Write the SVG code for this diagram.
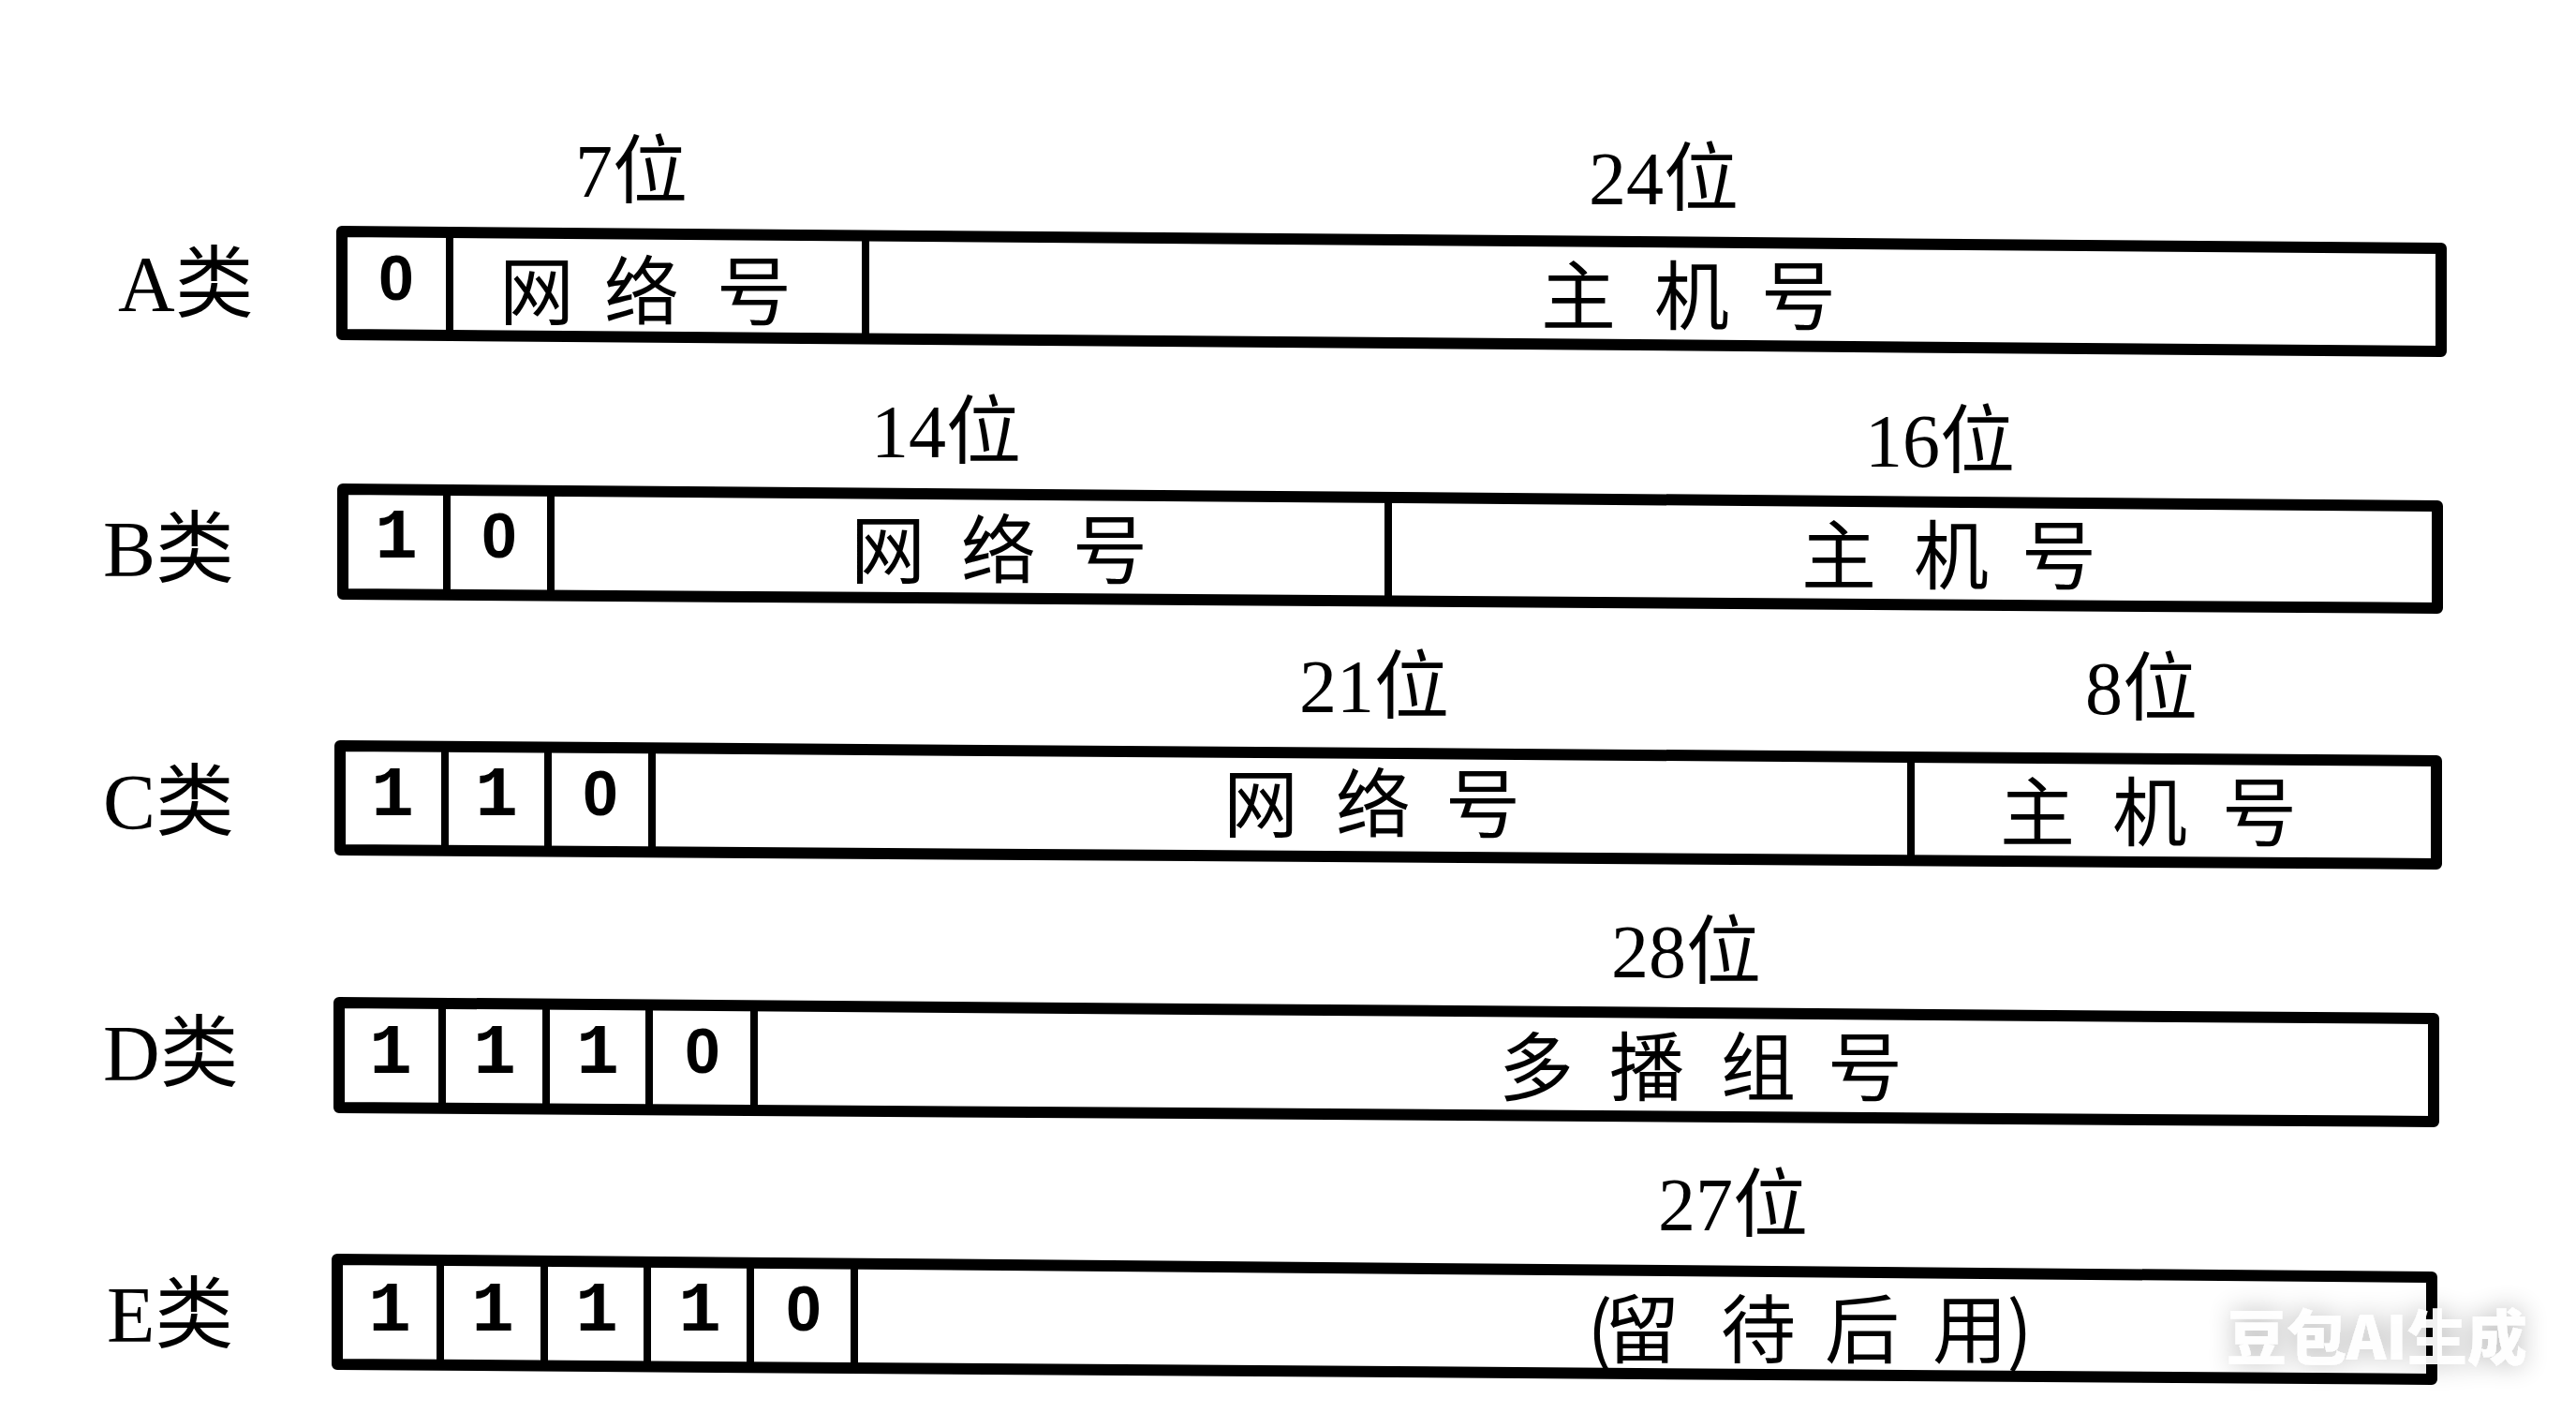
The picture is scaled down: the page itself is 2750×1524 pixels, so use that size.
<svg xmlns="http://www.w3.org/2000/svg" width="2750" height="1524" viewBox="0 0 2750 1524">
<defs>
<style>
.frame{fill:#fff;stroke:#000;stroke-width:12;stroke-linejoin:round}
.dv{stroke:#000;stroke-width:8;fill:none}
.lbl{font-family:"Liberation Serif","Noto Sans CJK SC",serif;font-size:84px;fill:#000}
.bits{font-family:"Liberation Serif","Noto Sans CJK SC",serif;font-size:80px;text-anchor:middle;fill:#000}
.cell{font-family:"Liberation Mono",monospace;font-weight:bold;font-size:76px;text-anchor:middle;fill:#000}
.zero{font-family:"Liberation Sans",sans-serif;font-weight:bold;font-size:68px;text-anchor:middle;fill:#000}
.cjk{font-family:"Noto Sans CJK SC",sans-serif;font-size:80px;text-anchor:middle;fill:#000}
.wm{font-family:"Noto Sans CJK SC",sans-serif;font-weight:900;font-size:64px;fill:#fff;fill-opacity:0.94}
</style>
<filter id="shadow" x="-20%" y="-60%" width="140%" height="220%">
<feGaussianBlur in="SourceAlpha" stdDeviation="14"/>
<feComponentTransfer><feFuncA type="linear" slope="0.3"/></feComponentTransfer>
<feMerge><feMergeNode/><feMergeNode in="SourceGraphic"/></feMerge>
</filter>
</defs>
<rect width="2750" height="1524" fill="#fff"/>

<g id="classA">
<text class="lbl" x="126" y="332">A类</text>
<text class="bits" x="674" y="210">7位</text>
<text class="bits" x="1776" y="218">24位</text>
<path class="frame" d="M365,247 L2606,265 L2606,375 L365,357 Z"/>
<line class="dv" x1="480" y1="248" x2="480" y2="358"/>
<line class="dv" x1="924" y1="251.5" x2="924" y2="361.5"/>
<text class="zero" x="423" y="320">0</text>
<text class="cjk" x="573 629 685 745 805" y="340">网 络 号</text>
<text class="cjk" x="1685 1745 1806 1863 1920" y="345">主 机 号</text>
</g>

<g id="classB">
<text class="lbl" x="110" y="615">B类</text>
<text class="bits" x="1010" y="488">14位</text>
<text class="bits" x="2071" y="498">16位</text>
<path class="frame" d="M366,522 L2602,540 L2602,649 L366,634 Z"/>
<line class="dv" x1="477" y1="523" x2="477" y2="635"/>
<line class="dv" x1="588" y1="524" x2="588" y2="636"/>
<line class="dv" x1="1482" y1="531" x2="1482" y2="641.5"/>
<text class="cell" x="423" y="595">1</text>
<text class="zero" x="533" y="595">0</text>
<text class="cjk" x="948 1007 1066 1125 1185" y="616">网 络 号</text>
<text class="cjk" x="1963 2023 2083 2140 2198" y="622">主 机 号</text>
</g>

<g id="classC">
<text class="lbl" x="110" y="885">C类</text>
<text class="bits" x="1467" y="760">21位</text>
<text class="bits" x="2286" y="762">8位</text>
<path class="frame" d="M363,796 L2601,812 L2601,922 L363,907 Z"/>
<line class="dv" x1="475" y1="797" x2="475" y2="908"/>
<line class="dv" x1="585" y1="797.5" x2="585" y2="908.5"/>
<line class="dv" x1="696" y1="798.5" x2="696" y2="909"/>
<line class="dv" x1="2040" y1="808" x2="2040" y2="918"/>
<text class="cell" x="419" y="870">1</text>
<text class="cell" x="530" y="870">1</text>
<text class="zero" x="641" y="870">0</text>
<text class="cjk" x="1346 1406 1466 1525 1583" y="887">网 络 号</text>
<text class="cjk" x="2175 2235 2295 2353 2412" y="896">主 机 号</text>
</g>

<g id="classD">
<text class="lbl" x="110" y="1153">D类</text>
<text class="bits" x="1800" y="1043">28位</text>
<path class="frame" d="M362,1070 L2598,1087 L2598,1197 L362,1182 Z"/>
<line class="dv" x1="472" y1="1071" x2="472" y2="1182.5"/>
<line class="dv" x1="583" y1="1071.5" x2="583" y2="1183.5"/>
<line class="dv" x1="693" y1="1072.5" x2="693" y2="1184"/>
<line class="dv" x1="805" y1="1073.5" x2="805" y2="1185"/>
<text class="cell" x="417" y="1145">1</text>
<text class="cell" x="528" y="1145">1</text>
<text class="cell" x="638" y="1145">1</text>
<text class="zero" x="750" y="1145">0</text>
<text class="cjk" x="1640 1699 1758 1817 1877 1934 1991" y="1168">多 播 组 号</text>
</g>

<g id="classE">
<text class="lbl" x="114" y="1432">E类</text>
<text class="bits" x="1850" y="1313">27位</text>
<path class="frame" d="M360,1344 L2596,1363 L2596,1472 L360,1456 Z"/>
<line class="dv" x1="470" y1="1345" x2="470" y2="1457"/>
<line class="dv" x1="581" y1="1346" x2="581" y2="1457.5"/>
<line class="dv" x1="691" y1="1347" x2="691" y2="1458.5"/>
<line class="dv" x1="801" y1="1347.5" x2="801" y2="1459"/>
<line class="dv" x1="912" y1="1348.5" x2="912" y2="1460"/>
<text class="cell" x="416" y="1420">1</text>
<text class="cell" x="526" y="1420">1</text>
<text class="cell" x="637" y="1420">1</text>
<text class="cell" x="747" y="1420">1</text>
<text class="zero" x="858" y="1420">0</text>
<text class="cjk" x="1708 1753 1815 1877 1932 1988 2045 2103 2156" y="1448">(留 待 后 用)</text>
</g>

<g id="watermark" filter="url(#shadow)">
<text class="wm" x="2377" y="1451">豆包AI生成</text>
</g>
</svg>
